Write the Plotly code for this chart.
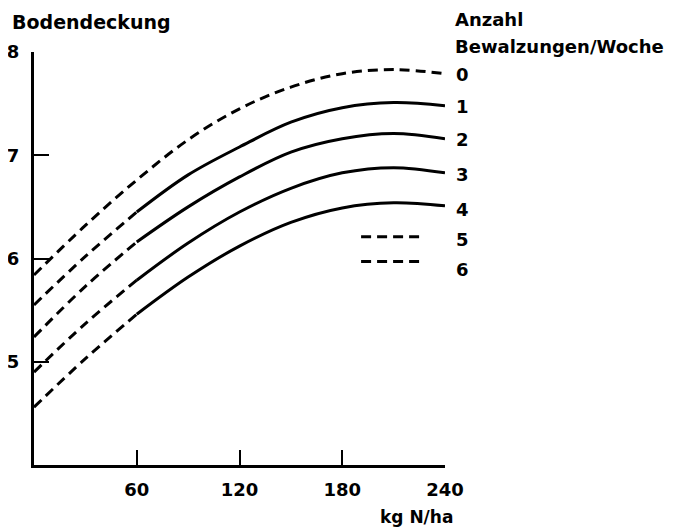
import plotly.graph_objects as go

# N-Düngung (kg N/ha)
x_n = [0, 30, 60, 90, 120, 150, 180, 210, 240]

# Bodendeckung je Anzahl Bewalzungen/Woche
curve_0 = [5.84, 6.32, 6.76, 7.15, 7.45, 7.66, 7.79, 7.83, 7.79]
curve_1 = [5.55, 6.02, 6.45, 6.81, 7.08, 7.32, 7.46, 7.51, 7.48]
curve_2 = [5.24, 5.73, 6.16, 6.50, 6.79, 7.03, 7.16, 7.21, 7.16]
curve_3 = [4.90, 5.37, 5.79, 6.15, 6.45, 6.68, 6.83, 6.88, 6.83]
curve_4 = [4.56, 5.03, 5.46, 5.82, 6.12, 6.35, 6.49, 6.54, 6.51]

labels = ["0", "1", "2", "3", "4", "5", "6"]
label_y = [7.78, 7.47, 7.15, 6.81, 6.47, 6.18, 5.89]

x_ticks = [60, 120, 180, 240]
y_ticks = [5, 6, 7, 8]

FONT = "DejaVu Sans"
DASH = "10px,6px"
LW = 3

# plot area (screen px): left 34, top 52, width 411, height 413; page body adds 8px
PW, PH = 411, 413

fig = go.Figure()

fig.add_trace(go.Scatter(x=x_n, y=curve_0, mode="lines",
                         line=dict(color="black", width=LW, dash=DASH, shape="spline"),
                         showlegend=False, hoverinfo="skip"))

for c in [curve_1, curve_2, curve_3, curve_4]:
    xs_d = [v for v in x_n if v <= 60]
    ys_d = [c[i] for i, v in enumerate(x_n) if v <= 60]
    xs_s = [v for v in x_n if v >= 60]
    ys_s = [c[i] for i, v in enumerate(x_n) if v >= 60]
    fig.add_trace(go.Scatter(x=xs_d, y=ys_d, mode="lines",
                             line=dict(color="black", width=LW, dash=DASH, shape="spline"),
                             showlegend=False, hoverinfo="skip"))
    fig.add_trace(go.Scatter(x=xs_s, y=ys_s, mode="lines",
                             line=dict(color="black", width=LW, shape="spline"),
                             showlegend=False, hoverinfo="skip"))

def tfont(size=19):
    return dict(family=FONT, size=size, color="black")

ann = []
for lab, ly in zip(labels, label_y):
    ann.append(dict(x=(454 - 34) / PW, y=(ly - 4) / 4, xref="paper", yref="paper",
                    text="<b>%s</b>" % lab, showarrow=False,
                    xanchor="left", yanchor="middle", font=tfont(18)))

ann += [
    dict(x=(10 - 34) / PW, y=1 + (52 - 22) / PH, xref="paper", yref="paper",
         text="<b>Bodendeckung</b>", showarrow=False, xanchor="left", yanchor="middle",
         font=tfont(19)),
    dict(x=(453 - 34) / PW, y=1 + (52 - 19) / PH, xref="paper", yref="paper",
         text="<b>Anzahl</b>", showarrow=False, xanchor="left", yanchor="middle",
         font=tfont(18)),
    dict(x=(453 - 34) / PW, y=1 + (52 - 46) / PH, xref="paper", yref="paper",
         text="<b>Bewalzungen/Woche</b>", showarrow=False, xanchor="left", yanchor="middle",
         font=tfont(18)),
    dict(x=(455 - 34) / PW, y=-(517 - 465) / PH, xref="paper", yref="paper",
         text="<b>kg N/ha</b>", showarrow=False, xanchor="right", yanchor="middle",
         font=tfont(17)),
]

fig.update_layout(
    width=675, height=523,
    margin=dict(l=26, r=238, t=44, b=66, autoexpand=False),
    paper_bgcolor="white", plot_bgcolor="white",
    font=dict(family=FONT, size=18, color="black"),
    xaxis=dict(range=[0, 240], tickvals=x_ticks, ticktext=["<b>%d</b>" % v for v in x_ticks],
               ticks="inside", ticklen=15, tickwidth=2,
               tickcolor="black", showline=True, linecolor="black", linewidth=3,
               showgrid=False, zeroline=False, ticklabelstandoff=6,
               tickfont=tfont(18)),
    yaxis=dict(range=[4, 8], tickvals=y_ticks, ticktext=["<b>%d</b>" % v for v in y_ticks],
               ticks="inside", ticklen=15, tickwidth=2,
               tickcolor="black", showline=True, linecolor="black", linewidth=3,
               showgrid=False, zeroline=False, ticklabelstandoff=8,
               tickfont=tfont(18)),
    showlegend=False,
    annotations=ann,
)

# legend samples for 5 and 6 (dashed)
for ly in [6.21, 5.97]:
    fig.add_shape(type="line", x0=191, x1=226, y0=ly, y1=ly, xref="x", yref="y",
                  line=dict(color="black", width=LW, dash=DASH))

fig.write_html("out.html")
